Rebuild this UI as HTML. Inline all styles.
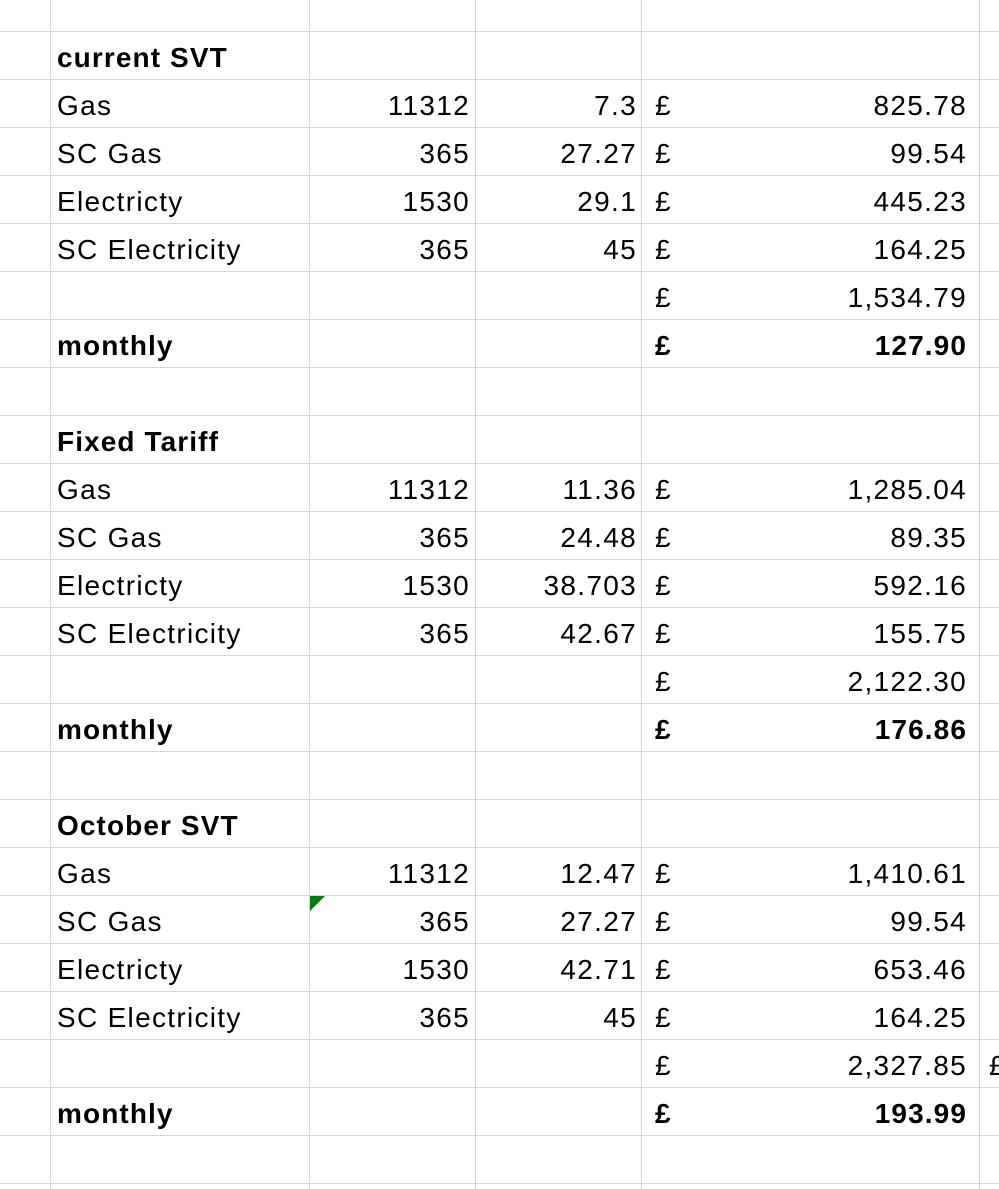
<!DOCTYPE html>
<html><head><meta charset="utf-8"><style>
body{margin:0;width:999px;height:1189px;background:#fff;overflow:hidden;position:relative;font-family:"Liberation Sans",sans-serif;}
.h{position:absolute;left:0;width:999px;height:1px;background:#d6d6d6;}
.v{position:absolute;top:0;width:1px;height:1189px;background:#d6d6d6;}
.t{position:absolute;height:48px;line-height:48px;font-size:28px;letter-spacing:1.3px;color:#000;white-space:nowrap;padding-top:3px;box-sizing:border-box;}
.b{font-weight:bold;letter-spacing:1.1px;}
.r{text-align:right;}
</style></head><body>
<div id="grid"></div>
<div id="cells"></div>
<div style="position:absolute;left:310px;top:896px;width:0;height:0;border-top:15px solid #008000;border-right:15px solid transparent;"></div>
<div class="t" style="left:989px;top:1039px;">£</div>
<script>
const grid=document.getElementById('grid');
for(let i=0;i<25;i++){const d=document.createElement('div');d.className='h';d.style.top=(31+48*i)+'px';


grid.appendChild(d);}
[50,309,475,641,979].forEach(x=>{const d=document.createElement('div');d.className='v';d.style.left=x+'px';


grid.appendChild(d);});
const rows=[
['current SVT','','','','',1],
['Gas','11312','7.3','£','825.78',0],
['SC Gas','365','27.27','£','99.54',0],
['Electricty','1530','29.1','£','445.23',0],
['SC Electricity','365','45','£','164.25',0],
['','','','£','1,534.79',0],
['monthly','','','£','127.90',1],
['','','','','',0],
['Fixed Tariff','','','','',1],
['Gas','11312','11.36','£','1,285.04',0],
['SC Gas','365','24.48','£','89.35',0],
['Electricty','1530','38.703','£','592.16',0],
['SC Electricity','365','42.67','£','155.75',0],
['','','','£','2,122.30',0],
['monthly','','','£','176.86',1],
['','','','','',0],
['October SVT','','','','',1],
['Gas','11312','12.47','£','1,410.61',0],
['SC Gas','365','27.27','£','99.54',0],
['Electricty','1530','42.71','£','653.46',0],
['SC Electricity','365','45','£','164.25',0],
['','','','£','2,327.85',0],
['monthly','','','£','193.99',1]];
const cells=document.getElementById('cells');
function add(txt,left,w,right,bold,top){if(!txt)return;const d=document.createElement('div');
d.className='t'+(right?' r':'')+(bold?' b':'');d.style.left=left+'px';d.style.width=w+'px';d.style.top=top+'px';d.textContent=txt;


cells.appendChild(d);}
rows.forEach((r,i)=>{const top=31+48*i;
add(r[0],57,250,false,r[5],top);
add(r[1],310,160,true,false,top);
add(r[2],476,161,true,false,top);
add(r[3],655,40,false,r[5],top);
add(r[4],700,267,true,r[5],top);});
</script>
</body></html>
